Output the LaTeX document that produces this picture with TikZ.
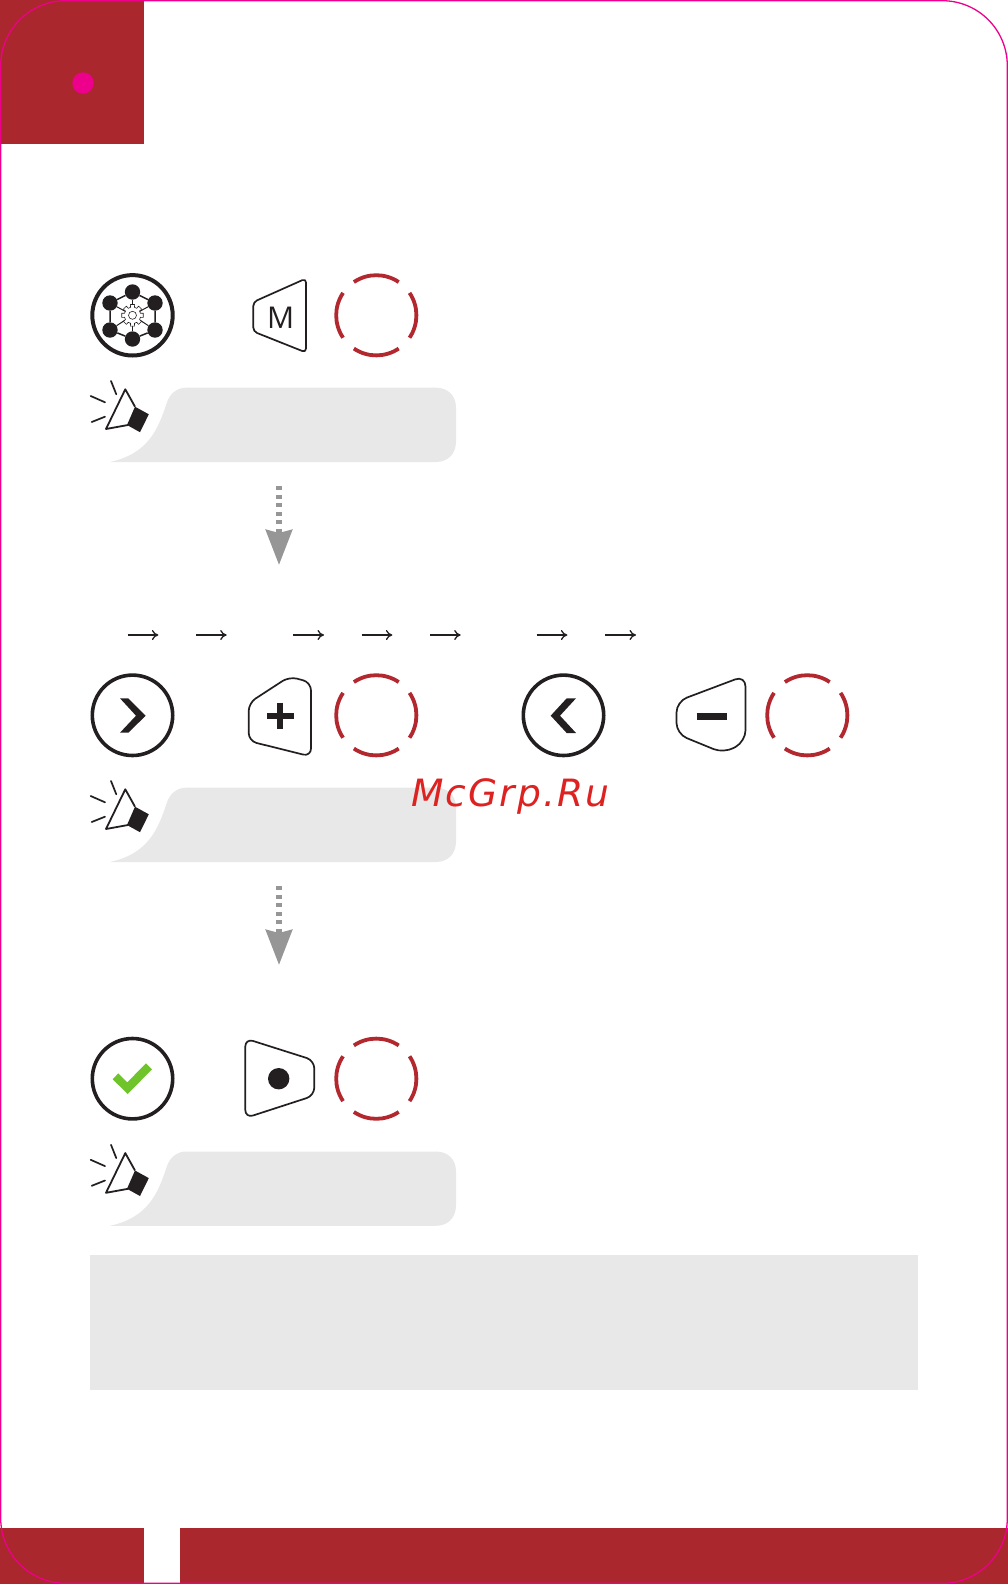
\documentclass[tikz,border=0pt]{standalone}
\usepackage{fontspec}
\usepackage{amsmath}
\usetikzlibrary{arrows.meta}
\newfontfamily\keyfont{Open Sans}
\newfontfamily\markfont[LetterSpace=5.5]{DejaVu Sans}
\definecolor{bandred}{RGB}{170, 39, 45}
\definecolor{ringred}{RGB}{178, 40, 46}
\definecolor{trimpink}{RGB}{236, 0, 140}
\definecolor{notegray}{RGB}{232, 232, 232}
\definecolor{flowgray}{RGB}{150, 150, 150}
\definecolor{inkblack}{RGB}{35, 31, 32}
\definecolor{okgreen}{RGB}{111, 196, 44}
\definecolor{markred}{RGB}{221, 34, 34}
\tikzset{
	iconring/.style={circle,draw=inkblack,line width=3.6pt,minimum size=80.4pt,inner sep=0pt},
	pressring/.pic={
		\foreach \a in {0,90,180,270}
			\draw[ringred,line width=3.8pt] (\a-34:40.1) arc[start angle=\a-34,delta angle=68,radius=40.1];
	},
	keyline/.style={draw=inkblack,line width=1.7pt,line join=round,rounded corners=8pt},
	flowline/.style={draw=flowgray,line width=6pt,dash pattern=on 4pt off 4.5pt,-{Stealth[length=35pt,width=26pt,inset=3pt,flowgray]}},
	stepnext/.style={draw=inkblack,line width=1.3pt,-{Computer Modern Rightarrow[length=6.5pt,width=10pt]}},
	netdot/.style={circle,fill=inkblack,minimum size=15.4pt,inner sep=0pt},
	netline/.style={draw=inkblack,line width=1.5pt},
	hornnote/.pic={
		\fill[notegray] (20,74.3) .. controls (58,66) and (68,42) .. (76.7,15.3) .. controls (80,5) and (88,0) .. (96,0) -- (346,0) .. controls (358,0) and (366,8) .. (366,20) -- (366,54) .. controls (366,66) and (358,74.3) .. (346,74.3) -- cycle;
		\draw[inkblack,line width=1.8pt,line join=round] (45,19) -- (35.3,1.6) -- (16,41.3) -- (38,37.3);
		\fill[inkblack] (45,19) -- (58.8,26.6) -- (50,44.5) -- (37,37.3) -- cycle;
		\draw[inkblack,line width=1.7pt,line cap=round] (21,-6.7) -- (26.3,6.6) (0.7,8.3) -- (15,14.6) (1.7,34.3) -- (15,29);
	}
}
\begin{document}
\begin{tikzpicture}[x=1pt,y=-1pt]
	\useasboundingbox (0,0) rectangle (1008,1584);
	% page trim
	\fill[bandred] (0,0) rectangle (144,144);
	\fill[bandred] (0,1528) rectangle (144,1584);
	\fill[bandred] (180,1528) rectangle (1007.5,1584);
	\draw[trimpink,line width=1.3pt,rounded corners=65pt] (0.7,0.7) rectangle (1007.3,1583.3);
	\node[circle,fill=trimpink,minimum size=21.4pt,inner sep=0pt] (pagedot) at (83,83) {};
	
	% first row
	\node[iconring,line width=4pt] (btnnet) at (132.5,315.3) {};
	\node[netdot] (dotn) at (132.5,292) {};
	\node[netdot] (dotne) at (155,303) {};
	\node[netdot] (dotse) at (155,330) {};
	\node[netdot] (dots) at (132.5,339) {};
	\node[netdot] (dotsw) at (110,330) {};
	\node[netdot] (dotnw) at (110,303) {};
	\coordinate (gearc) at (132.5,315.3);
	\draw[netline] (dotn) -- (dotne) -- (dotse) -- (dots) -- (dotsw) -- (dotnw) -- (dotn);
	\foreach \dotname in {dotn,dotne,dotse,dots,dotsw,dotnw}
		\draw[netline,line width=1pt] (\dotname) -- (gearc);
	\draw[shift={(gearc)},draw=inkblack,fill=white,line width=0.6pt,line join=round] (-11:11) \foreach \a in {0,45,...,315} { -- (\a-11:11) -- (\a+11:11) -- (\a+14:8.2) -- (\a+31:8.2) } -- cycle;
	\node[circle,draw=inkblack,fill=white,line width=0.6pt,minimum size=8pt,inner sep=0pt] (gearhub) at (gearc) {};
	
	\draw[keyline,rounded corners=4pt] (306,278.5) -- (253.3,302) -- (253.3,331.5) -- (306,352.5) -- cycle;
	\node[text=inkblack,inner sep=0pt] (keym) at (280.7,318) {\keyfont\fontsize{30}{30}\selectfont M};
	\pic (ringm) at (376.3,315.3) {pressring};
	\pic (noteone) at (90,387.7) {hornnote};
	
	\coordinate (flowonea) at (279,486);
	\coordinate (flowoneb) at (279,565);
	\draw[flowline] (flowonea) -- (flowoneb);
	
	% second row
	\foreach \x/\nextname in {127.7/nexta,196/nextb,293.3/nextc,361.7/nextd,430/nexte,536.7/nextf,605.3/nextg}{
		\coordinate (\nextname from) at (\x,635);
		\coordinate (\nextname to) at (\x+30.7,635);
		\draw[stepnext] (\nextname from) -- (\nextname to);
	}
	
	\node[iconring] (btnright) at (132.5,715.3) {};
	\fill[inkblack] (120,698.3) -- (128.3,698.3) -- (145.7,715.7) -- (128.3,732.7) -- (120,732.7) -- (136,715.7) -- cycle;
	\draw[keyline] (289.3,676.6) -- (311,682.4) -- (311,756.5) -- (248.7,741) -- (248.7,703) -- cycle;
	\draw[inkblack,line width=6pt] (267,716) -- (294,716) (280.3,702.5) -- (280.3,729);
	\pic (ringplus) at (376.3,715.3) {pressring};
	
	\node[iconring] (btnleft) at (563.5,715.3) {};
	\fill[inkblack] (576,698.3) -- (566.7,698.3) -- (550.7,715.7) -- (566.7,733) -- (576,733) -- (560,715.7) -- cycle;
	\draw[keyline,rounded corners=11pt] (676.5,701.5) -- (745.5,675.5) -- (745.5,741.4) -- (723.9,753.3) -- (676.5,733.9) -- cycle;
	\draw[inkblack,line width=7pt] (696.7,716.5) -- (726.7,716.5);
	\pic (ringminus) at (807.3,715.3) {pressring};
	\pic (notetwo) at (90,787.7) {hornnote};
	
	\coordinate (flowtwoa) at (279,886);
	\coordinate (flowtwob) at (279,965);
	\draw[flowline] (flowtwoa) -- (flowtwob);
	
	% third row
	\node[iconring] (btnok) at (132.5,1078.7) {};
	\fill[okgreen] (112.7,1079.3) -- (118.3,1073.3) -- (127.3,1082.3) -- (146,1063.3) -- (152,1069.3) -- (127.7,1094) -- cycle;
	\draw[keyline] (245.3,1038.5) -- (314.3,1060.4) -- (314.3,1095.6) -- (245.3,1118) -- cycle;
	\node[circle,fill=inkblack,minimum size=21.4pt,inner sep=0pt] (keydot) at (278.7,1078.7) {};
	\pic (ringok) at (376.3,1078.7) {pressring};
	\pic (notethree) at (90,1151.5) {hornnote};
	
	\fill[notegray] (90,1255) rectangle (918,1390);
	
	\node[text=markred,inner sep=0pt,anchor=base west] (sitemark) at (411,806.7) {\markfont\itshape\fontsize{37.6}{37.6}\selectfont McGrp.Ru};
\end{tikzpicture}
\end{document}
